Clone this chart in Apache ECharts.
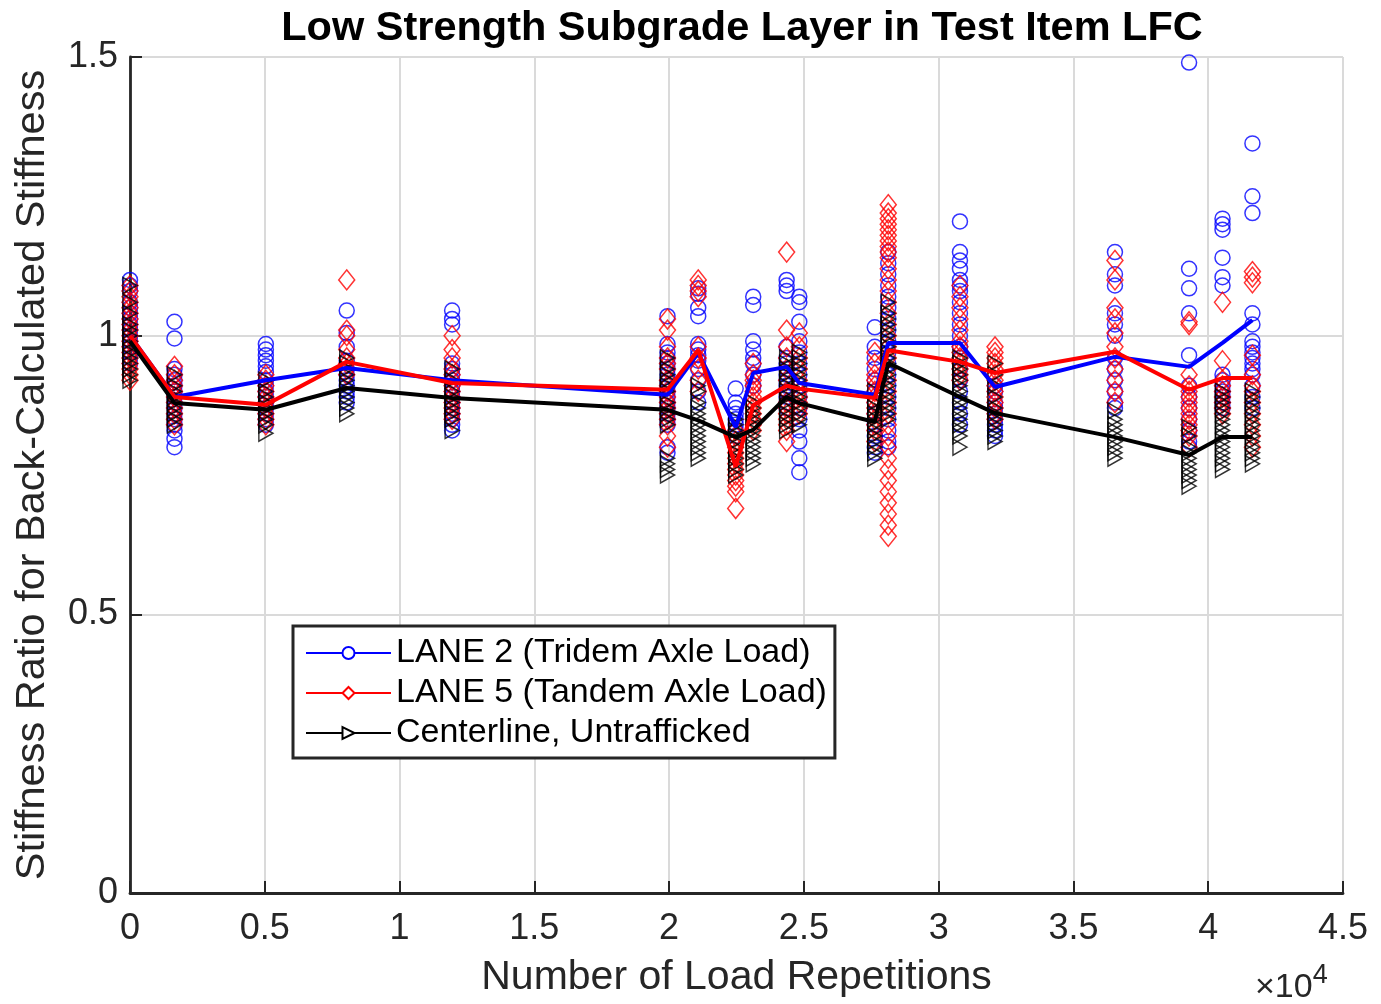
<!DOCTYPE html>
<html>
<head>
<meta charset="utf-8">
<script src="https://cdn.jsdelivr.net/npm/echarts@6/dist/echarts.min.js"></script>
<style>
html,body{margin:0;padding:0;background:#fff;}
#chart{width:1381px;height:1004px;}
</style>
</head>
<body>
<div id="chart"></div>
<script>
// Load repetitions at which measurements were taken
const loadReps = [0, 1650, 5040, 8040, 11950, 19940, 21080, 22470, 23120, 24360, 24830, 27630, 28130, 30790, 32090, 36540, 39290, 40530, 41640];

// Individual stiffness ratios per test (one list per load repetition group)
const lane2Points = [
  [1.10,1.09,1.08,1.06,1.05,1.04,1.03,1.02,1.01,1.00,0.99,0.98,0.97,0.96,0.95],
  [1.025,0.995,0.94,0.93,0.92,0.91,0.90,0.89,0.88,0.87,0.86,0.85,0.84,0.83,0.815,0.80],
  [0.985,0.975,0.965,0.955,0.945,0.935,0.92,0.91,0.90,0.89,0.88,0.87,0.86,0.85,0.84],
  [1.045,1.005,0.98,0.955,0.94,0.93,0.92,0.91,0.90,0.89,0.88],
  [1.045,1.03,1.02,0.95,0.94,0.93,0.92,0.91,0.90,0.89,0.88,0.87,0.86,0.85,0.84,0.83],
  [1.035,0.985,0.97,0.96,0.95,0.94,0.93,0.92,0.91,0.90,0.89,0.88,0.87,0.86,0.85,0.84,0.80,0.79],
  [1.085,1.075,1.05,1.035,0.985,0.975,0.965,0.955,0.94,0.92,0.90,0.88],
  [0.905,0.88,0.87,0.86,0.85,0.84,0.83,0.82],
  [1.07,1.055,0.99,0.975,0.96,0.95,0.93,0.91],
  [1.10,1.09,1.08,0.98,0.96,0.95,0.94,0.93,0.92,0.91,0.90,0.89,0.88,0.87],
  [1.07,1.06,1.025,0.99,0.97,0.95,0.93,0.91,0.89,0.87,0.85,0.83,0.81,0.78,0.755],
  [1.015,0.98,0.96,0.94,0.92,0.90,0.88,0.86,0.84,0.82,0.80,0.79],
  [1.15,1.13,1.11,1.09,1.07,1.05,1.03,1.01,0.99,0.97,0.95,0.93,0.91,0.89,0.87,0.85,0.83,0.81,0.80],
  [1.205,1.15,1.135,1.12,1.10,1.09,1.08,1.06,1.04,1.02,1.00,0.98,0.96,0.94,0.92,0.90,0.88,0.86,0.84],
  [0.91,0.90,0.88,0.87,0.86,0.85,0.84,0.83,0.82],
  [1.15,1.11,1.09,1.04,1.02,1.00,0.96,0.94,0.92,0.90,0.88,0.87],
  [1.49,1.12,1.085,1.04,0.965,0.91,0.89,0.87,0.85,0.83,0.81,0.80],
  [1.21,1.20,1.19,1.14,1.105,1.09,0.93,0.92,0.91,0.90,0.89,0.88,0.87],
  [1.345,1.25,1.22,1.04,1.02,0.99,0.98,0.97,0.96,0.95,0.94,0.93,0.91,0.89,0.87]
];
const lane5Points = [
  [1.09,1.08,1.07,1.06,1.05,1.04,1.03,1.02,1.01,1.00,0.99,0.98,0.97,0.96,0.95,0.94,0.93,0.92],
  [0.945,0.93,0.92,0.91,0.90,0.89,0.88,0.87,0.86,0.85,0.84],
  [0.93,0.92,0.91,0.90,0.89,0.88,0.87,0.86,0.85,0.84],
  [1.10,1.01,1.00,0.975,0.96,0.95,0.94,0.93],
  [1.00,0.975,0.96,0.94,0.93,0.92,0.91,0.90,0.89,0.88,0.87,0.86,0.85],
  [1.03,1.01,0.98,0.96,0.95,0.94,0.92,0.91,0.90,0.89,0.88,0.87,0.86,0.85,0.84,0.82,0.80],
  [1.10,1.09,1.08,1.07,0.98,0.96,0.94,0.92,0.90],
  [0.83,0.82,0.81,0.80,0.79,0.78,0.77,0.76,0.75,0.74,0.73,0.72,0.69],
  [0.95,0.93,0.92,0.91,0.90,0.89,0.88,0.87,0.86,0.85,0.84,0.83],
  [1.15,1.01,0.98,0.96,0.94,0.92,0.90,0.88,0.87,0.86,0.85,0.84,0.83,0.81],
  [1.005,0.98,0.96,0.94,0.92,0.90,0.89,0.88,0.87,0.86],
  [0.97,0.95,0.93,0.92,0.91,0.90,0.89,0.88,0.87,0.86,0.85,0.84,0.83,0.81],
  [1.235,1.22,1.21,1.20,1.19,1.18,1.17,1.16,1.15,1.14,1.12,1.10,1.08,1.06,1.04,1.02,1.00,0.98,0.96,0.94,0.92,0.90,0.88,0.86,0.84,0.82,0.80,0.78,0.76,0.74,0.72,0.70,0.68,0.66,0.64],
  [1.09,1.07,1.05,1.03,1.01,0.99,0.98,0.97,0.96,0.95,0.94,0.93,0.92],
  [0.98,0.97,0.96,0.95,0.94,0.93,0.92,0.91,0.90,0.89,0.88,0.87,0.86,0.85],
  [1.135,1.10,1.05,1.03,1.005,0.98,0.96,0.94,0.92,0.90,0.88],
  [1.025,1.02,0.93,0.91,0.90,0.89,0.88,0.87,0.86,0.85,0.84,0.83,0.82,0.80],
  [1.06,0.955,0.92,0.91,0.90,0.89,0.88,0.87,0.86],
  [1.115,1.105,1.095,0.965,0.93,0.91,0.90,0.88,0.86,0.84,0.82,0.80]
];
const centerPoints = [
  [1.09,1.06,1.04,1.02,1.01,1.00,0.99,0.98,0.97,0.96,0.95,0.94,0.93,0.92],
  [0.93,0.91,0.90,0.89,0.88,0.87,0.86,0.85,0.84],
  [0.92,0.90,0.89,0.88,0.87,0.86,0.85,0.84,0.825],
  [0.96,0.95,0.94,0.93,0.92,0.91,0.90,0.89,0.88,0.87,0.86],
  [0.94,0.92,0.90,0.89,0.88,0.87,0.86,0.85,0.83],
  [0.96,0.94,0.93,0.92,0.91,0.90,0.88,0.87,0.86,0.85,0.84,0.78,0.77,0.76,0.75],
  [0.91,0.90,0.88,0.87,0.86,0.85,0.84,0.83,0.82,0.81,0.80,0.79,0.78],
  [0.85,0.84,0.83,0.82,0.81,0.80,0.79,0.78,0.77,0.76,0.75],
  [0.88,0.87,0.86,0.85,0.84,0.83,0.82,0.81,0.80,0.79,0.78,0.77],
  [0.96,0.95,0.94,0.93,0.92,0.91,0.90,0.89,0.88,0.87,0.86,0.85,0.84,0.83],
  [0.97,0.96,0.95,0.94,0.93,0.92,0.91,0.90,0.89,0.88,0.87,0.86,0.85,0.84],
  [0.90,0.88,0.87,0.86,0.85,0.84,0.83,0.82,0.81,0.80,0.79,0.78],
  [1.06,1.04,1.03,1.02,1.01,1.00,0.99,0.98,0.97,0.96,0.95,0.94,0.93,0.92,0.91,0.90,0.89,0.88,0.87,0.86,0.85],
  [0.96,0.95,0.94,0.93,0.92,0.91,0.90,0.89,0.88,0.87,0.86,0.85,0.84,0.83,0.82,0.80],
  [0.95,0.93,0.91,0.89,0.87,0.86,0.85,0.84,0.83,0.82,0.81],
  [0.865,0.85,0.84,0.83,0.82,0.81,0.80,0.79,0.78],
  [0.835,0.82,0.80,0.79,0.78,0.77,0.76,0.75,0.74,0.73],
  [0.90,0.89,0.88,0.87,0.86,0.85,0.84,0.83,0.82,0.81,0.80,0.79,0.78,0.77,0.76],
  [0.90,0.89,0.88,0.87,0.86,0.85,0.84,0.83,0.82,0.81,0.80,0.79,0.78,0.77]
];

// Mean stiffness ratio per group (lines)
const lane2Mean  = [1.00, 0.890, 0.920, 0.942, 0.920, 0.894, 0.969, 0.836, 0.933, 0.944, 0.915, 0.894, 0.987, 0.987, 0.908, 0.962, 0.944, 0.987, 1.028];
const lane5Mean  = [1.00, 0.890, 0.876, 0.953, 0.915, 0.903, 0.974, 0.765, 0.875, 0.910, 0.905, 0.888, 0.974, 0.953, 0.933, 0.971, 0.903, 0.924, 0.924];
const centerMean = [0.99, 0.879, 0.867, 0.906, 0.888, 0.867, 0.848, 0.818, 0.831, 0.890, 0.879, 0.845, 0.951, 0.890, 0.861, 0.818, 0.786, 0.818, 0.818];

const xTicks = [0, 0.5, 1, 1.5, 2, 2.5, 3, 3.5, 4, 4.5];
const yTicks = [0, 0.5, 1, 1.5];

const names = ['LANE 2 (Tridem Axle Load)', 'LANE 5 (Tandem Axle Load)', 'Centerline, Untrafficked'];

function flatten(groups) {
  const out = [];
  groups.forEach((vals, i) => vals.forEach(v => out.push([loadReps[i], v])));
  return out;
}
function pairs(means) { return means.map((v, i) => [loadReps[i], v]); }

const FONT = '"Liberation Sans", Arial, Helvetica, sans-serif';
const BLUE = '#0000ff', RED = '#ff0000', BLACK = '#000000';

const circleStyle = {color: 'rgba(0,0,0,0)', borderColor: BLUE, borderWidth: 1.5};
const diamondStyle = {color: 'rgba(0,0,0,0)', borderColor: RED, borderWidth: 1.5};
const triStyle = {color: 'rgba(0,0,0,0)', borderColor: BLACK, borderWidth: 1.5};

const chart = echarts.init(document.getElementById('chart'), null, {renderer: 'canvas'});
chart.setOption({
  animation: false,
  backgroundColor: '#ffffff',
  title: {
    text: 'Low Strength Subgrade Layer in Test Item LFC',
    left: 737, top: 3, textAlign: 'center',
    textStyle: {fontFamily: FONT, fontWeight: 'bold', fontSize: 41.5, color: '#000'}
  },
  grid: {left: 130, right: 38, top: 57, bottom: 111, containLabel: false},
  xAxis: {
    type: 'value', min: 0, max: 45000, interval: 5000,
    name: 'Number of Load Repetitions', nameLocation: 'middle', nameGap: 64,
    nameTextStyle: {fontFamily: FONT, fontSize: 41, color: '#262626'},
    axisLine: {show: true, onZero: false, lineStyle: {color: '#262626', width: 2.8}},
    axisTick: {show: true, inside: true, length: 12, lineStyle: {color: '#262626', width: 2}},
    axisLabel: {fontFamily: FONT, fontSize: 36, color: '#262626', margin: 18,
      formatter: v => { const t = xTicks.find(k => Math.abs(k * 10000 - v) < 1); return t === undefined ? '' : String(t); }},
    splitLine: {show: true, lineStyle: {color: '#dadada', width: 2}}
  },
  yAxis: {
    type: 'value', min: 0, max: 1.5, interval: 0.5,
    name: 'Stiffness Ratio for Back-Calculated Stiffness', nameLocation: 'middle', nameGap: 76,
    nameTextStyle: {fontFamily: FONT, fontSize: 41.5, color: '#262626'},
    axisLine: {show: true, onZero: false, lineStyle: {color: '#262626', width: 2.8}},
    axisTick: {show: true, inside: true, length: 12, lineStyle: {color: '#262626', width: 2}},
    axisLabel: {fontFamily: FONT, fontSize: 36, color: '#262626', margin: 12,
      formatter: v => { const t = yTicks.find(k => Math.abs(k - v) < 1e-6); return t === undefined ? '' : String(t); }},
    splitLine: {show: true, lineStyle: {color: '#dadada', width: 2}}
  },
  legend: {
    data: names,
    orient: 'vertical', left: 293, top: 626,
    itemWidth: 85, itemHeight: 15, itemGap: 6,
    padding: [10, 8, 8, 12],
    backgroundColor: '#ffffff', borderColor: '#262626', borderWidth: 3,
    textStyle: {fontFamily: FONT, fontSize: 34, color: '#000', lineHeight: 34}
  },
  graphic: [{
    type: 'text', left: 1255, top: 962,
    style: {
      text: '{a|×10}{b|4}',
      rich: {
        a: {fontFamily: FONT, fontSize: 34, fill: '#262626', verticalAlign: 'bottom'},
        b: {fontFamily: FONT, fontSize: 27, fill: '#262626', verticalAlign: 'top', padding: [0, 0, 16, 0]}
      }
    }
  }],
  series: [
    {name: 'pts2', type: 'scatter', data: flatten(lane2Points), symbol: 'circle', symbolSize: 15, itemStyle: circleStyle, z: 2, silent: true},
    {name: 'pts5', type: 'scatter', data: flatten(lane5Points), symbol: 'diamond', symbolSize: [16, 20], itemStyle: diamondStyle, z: 3, silent: true},
    {name: 'ptsC', type: 'scatter', data: flatten(centerPoints), symbol: 'triangle', symbolRotate: -90, symbolSize: [16, 14], itemStyle: triStyle, z: 4, silent: true},
    {name: names[0], type: 'line', data: pairs(lane2Mean), symbol: 'circle', symbolSize: 11, showSymbol: false,
      lineStyle: {color: BLUE, width: 4}, itemStyle: {color: '#fff', borderColor: BLUE, borderWidth: 3.5}, z: 5},
    {name: names[1], type: 'line', data: pairs(lane5Mean), symbol: 'diamond', symbolSize: [11, 14], showSymbol: false,
      lineStyle: {color: RED, width: 4}, itemStyle: {color: '#fff', borderColor: RED, borderWidth: 3.5}, z: 6},
    {name: names[2], type: 'line', data: pairs(centerMean), symbol: 'triangle', symbolRotate: -90, symbolSize: [13, 13], showSymbol: false,
      lineStyle: {color: BLACK, width: 4}, itemStyle: {color: '#fff', borderColor: BLACK, borderWidth: 3.5}, z: 7}
  ]
});
</script>
</body>
</html>
